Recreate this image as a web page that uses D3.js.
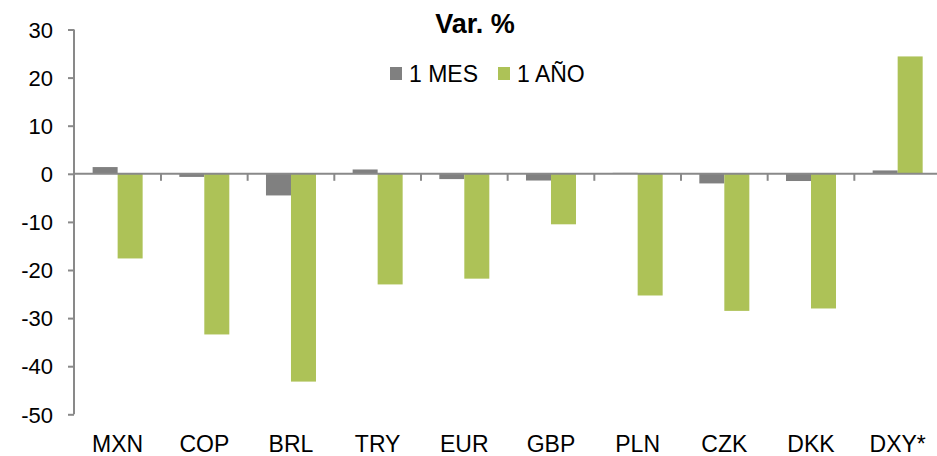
<!DOCTYPE html>
<html><head><meta charset="utf-8">
<script src="https://cdn.jsdelivr.net/npm/d3@7"></script>
<style>body{margin:0;background:#fff}svg{display:block}</style>
</head><body><svg id="c" width="937" height="456"></svg>
<script>
const categories = ["MXN","COP","BRL","TRY","EUR","GBP","PLN","CZK","DKK","DXY*"];
const seriesNames = ["1 MES","1 AÑO"];
const mes = [1.4,-0.65,-4.5,0.9,-1.1,-1.4,0.2,-2.0,-1.5,0.7];
const anio = [-17.6,-33.4,-43.2,-23.0,-21.8,-10.5,-25.3,-28.5,-28.0,24.4];
const yTicks = [30,20,10,0,-10,-20,-30,-40,-50];
const colors = ["#808080","#ADC257"];
const title = "Var. %";

const svg = d3.select("#c");
const font = "'Liberation Sans', Arial, sans-serif";
const axisColor = "#898989";

const y = d3.scaleLinear().domain([-50,30]).range([414.3,29.5]);
const x = d3.scaleBand().domain(categories).range([74.3,941]).paddingInner(0.423).paddingOuter(0.2115);
const xs = d3.scaleBand().domain(seriesNames).range([0,x.bandwidth()]);

const series = [mes, anio];

// bars
series.forEach((vals,si)=>{
  svg.append("g").selectAll("rect").data(vals).join("rect")
    .attr("x",(d,i)=>x(categories[i])+xs(seriesNames[si]))
    .attr("width",xs.bandwidth())
    .attr("y",d=>y(Math.max(0,d)))
    .attr("height",d=>Math.abs(y(d)-y(0)))
    .attr("fill",colors[si]);
});

// y axis
const yAxis = svg.append("g").attr("transform","translate(74,0)")
  .call(d3.axisLeft(y).tickValues(yTicks).tickSize(6).tickPadding(15).tickFormat(d=>String(d)));
yAxis.select(".domain").attr("stroke",axisColor).attr("stroke-width",2).attr("d","M0,"+y(30)+"V"+y(-50));
yAxis.selectAll(".tick line").attr("stroke",axisColor).attr("stroke-width",2);
yAxis.selectAll(".tick text").attr("fill","#000").style("font-family",font).style("font-size","22px").attr("dy","0.35em");

// x zero line with ticks at category boundaries
const bounds = categories.map(c=>x(c)-x.step()*x.paddingInner()/2).concat([x.range()[1]]);
svg.append("line").attr("x1",74).attr("x2",937).attr("y1",y(0)).attr("y2",y(0))
  .attr("stroke",axisColor).attr("stroke-width",2);
svg.append("g").selectAll("line").data(bounds.slice(1)).join("line")
  .attr("x1",d=>d).attr("x2",d=>d).attr("y1",y(0)).attr("y2",y(0)+7)
  .attr("stroke",axisColor).attr("stroke-width",2);

// x labels
svg.append("g").selectAll("text").data(categories).join("text")
  .attr("x",d=>x(d)+x.bandwidth()/2).attr("y",452)
  .attr("text-anchor","middle").style("font-family",font).style("font-size","23px").attr("fill","#000")
  .text(d=>d);

// title
svg.append("text").attr("x",475).attr("y",33).attr("text-anchor","middle")
  .style("font-family",font).style("font-size","27px").style("font-weight","bold").text(title);

// legend
const legX = [390, 498];
seriesNames.forEach((n,i)=>{
  svg.append("rect").attr("x",legX[i]).attr("y",67).attr("width",12).attr("height",13).attr("fill",colors[i]);
  svg.append("text").attr("x",legX[i]+19).attr("y",81.5).style("font-family",font).style("font-size","23px").text(n);
});
</script></body></html>
